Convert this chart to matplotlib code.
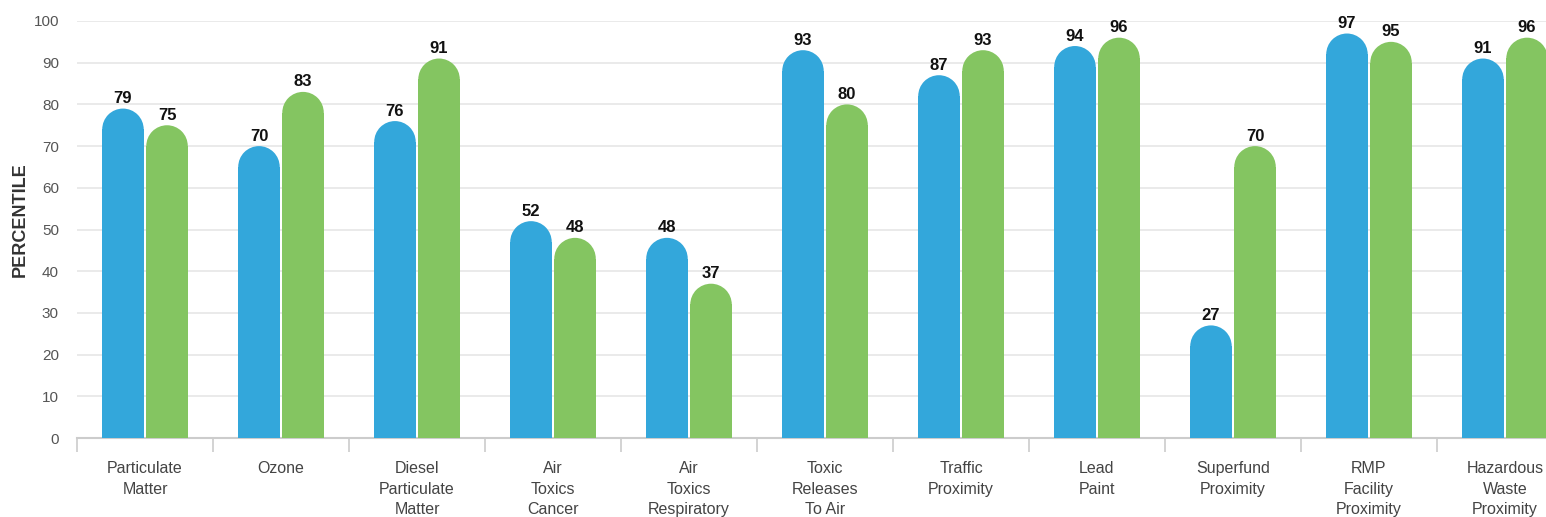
import numpy as np
import matplotlib
matplotlib.use('Agg')
import matplotlib.pyplot as plt
from matplotlib.patches import Ellipse

# Data
categories = ['Particulate\nMatter', 'Ozone', 'Diesel\nParticulate\nMatter', 'Air\nToxics\nCancer',
              'Air\nToxics\nRespiratory', 'Toxic\nReleases\nTo Air', 'Traffic\nProximity',
              'Lead\nPaint', 'Superfund\nProximity', 'RMP\nFacility\nProximity',
              'Hazardous\nWaste\nProximity']
blue_vals = [79, 70, 76, 52, 48, 93, 87, 94, 27, 97, 91]
green_vals = [75, 83, 91, 48, 37, 80, 93, 96, 70, 95, 96]
y_ticks = [0, 10, 20, 30, 40, 50, 60, 70, 80, 90, 100]

BLUE = '#33a7db'
GREEN = '#84c561'

plt.rcParams['font.family'] = ['Liberation Sans', 'DejaVu Sans']

W, H = 1546, 517
fig = plt.figure(figsize=(W / 100, H / 100), dpi=100)
# axes runs past the right edge, like the original (last bar is cut)
ax = fig.add_axes([77 / W, 79 / H, 1496 / W, 417 / H])
ax.set_xlim(-0.5, 10.5)
ax.set_ylim(0, 100)

x = np.arange(len(categories))
width = 0.305
offset = 0.162

# radius of rounded top in data units
px_x = 1496 / 11      # pixels per x unit
px_y = 417 / 100      # pixels per y unit
r_px = width * px_x / 2
r_y = r_px / px_y

def rounded_bars(xs, vals, color):
    for xi, v in zip(xs, vals):
        ax.bar(xi, v - r_y, width=width, color=color, zorder=3, linewidth=0)
        ax.add_patch(Ellipse((xi, v - r_y), width, 2 * r_y, color=color, zorder=3, linewidth=0))
        ax.text(xi, v + 0.6, str(v), ha='center', va='bottom', fontsize=12,
                fontweight='bold', color='#111111', zorder=4)

rounded_bars(x - offset, blue_vals, BLUE)
rounded_bars(x + offset, green_vals, GREEN)

# grid and axes styling
ax.set_yticks(y_ticks)
ax.yaxis.grid(True, color='#e6e6e6', linewidth=1.2, zorder=0)
ax.tick_params(axis='y', length=0, pad=13, labelsize=11, labelcolor='#555555')
ax.set_xticks(x)
ax.set_xticklabels(categories, fontsize=11.5, color='#444444', linespacing=1.48, va='top')
ax.tick_params(axis='x', which='major', length=0, pad=16.5)
ax.set_xticks(np.arange(-0.5, 11, 1), minor=True)
ax.tick_params(axis='x', which='minor', length=10, color='#cccccc', width=1.2)

for s in ['top', 'right', 'left']:
    ax.spines[s].set_visible(False)
ax.spines['bottom'].set_color('#cccccc')
ax.spines['bottom'].set_linewidth(1.5)
ax.set_axisbelow(True)

fig.text(20 / W, 1 - 220 / H, 'PERCENTILE', rotation=90, ha='center', va='center',
         fontsize=13, fontweight='bold', color='#333333')

fig.savefig('out.png', dpi=100)
